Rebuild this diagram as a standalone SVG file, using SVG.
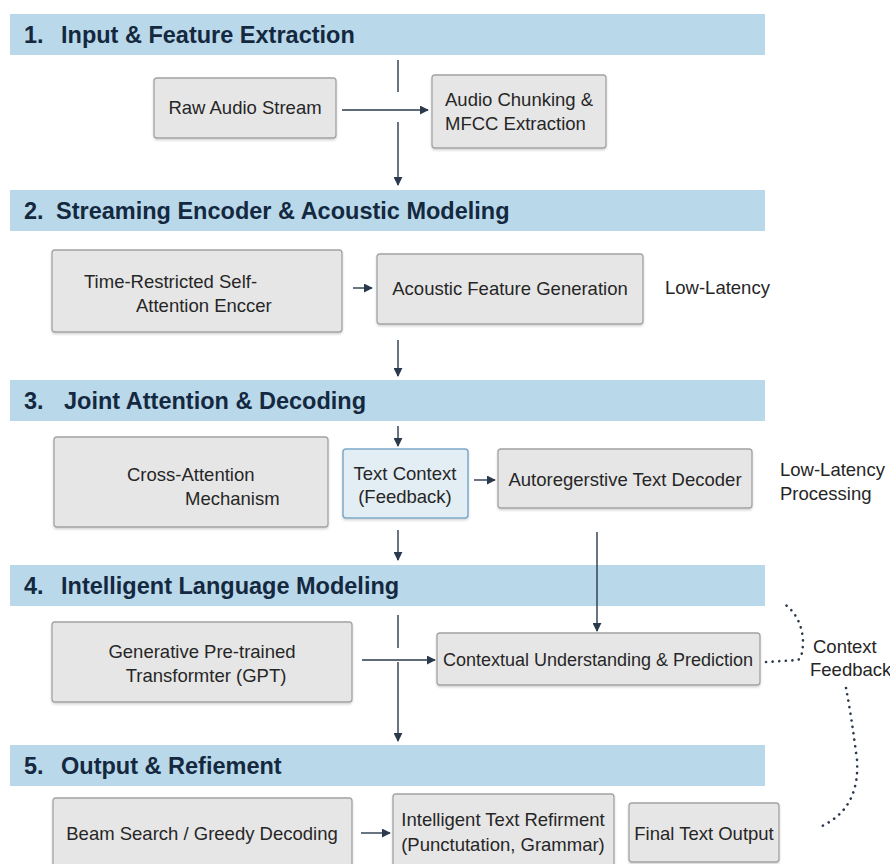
<svg xmlns="http://www.w3.org/2000/svg" width="890" height="864" viewBox="0 0 890 864">
<defs>
<style>
.band{fill:#b9d8ea;}
.title{font-family:"Liberation Sans",Arial,sans-serif;font-weight:bold;font-size:23.5px;fill:#14283f;}
.box{fill:#e6e6e6;stroke:#a3a3a3;stroke-width:1.3;}
.cbox{fill:#e3edf4;stroke:#7ea9c9;stroke-width:1.5;}
.t{font-family:"Liberation Sans",Arial,sans-serif;font-size:18.5px;fill:#262626;}
.tc{font-family:"Liberation Sans",Arial,sans-serif;font-size:18.5px;fill:#262626;text-anchor:middle;}
.ln{stroke:#2a3a4c;stroke-width:1.4;fill:none;}
.dot{stroke:#2a3a4c;stroke-width:2.6;fill:none;stroke-dasharray:0.1 6.5;stroke-linecap:round;}
</style>
<marker id="ah" viewBox="0 0 10 10" refX="9" refY="5" markerWidth="9" markerHeight="9" markerUnits="userSpaceOnUse" orient="auto">
<path d="M0,0 L10,5 L0,10 z" fill="#2a3a4c"/>
</marker>
<filter id="sh" x="-5%" y="-5%" width="110%" height="120%">
<feDropShadow dx="0" dy="1.5" stdDeviation="1.2" flood-color="#000" flood-opacity="0.18"/>
</filter>
</defs>
<rect width="890" height="864" fill="#ffffff"/>

<g id="band1"><rect class="band" x="10" y="14" width="755" height="41"/><text class="title" x="24" y="43">1.</text><text class="title" x="61" y="43">Input &amp; Feature Extraction</text></g>
<g id="band2"><rect class="band" x="10" y="190" width="755" height="41"/><text class="title" x="24" y="219">2.</text><text class="title" x="56" y="219">Streaming Encoder &amp; Acoustic Modeling</text></g>
<g id="band3"><rect class="band" x="10" y="380" width="755" height="41"/><text class="title" x="24" y="409">3.</text><text class="title" x="64" y="409">Joint Attention &amp; Decoding</text></g>
<g id="band4"><rect class="band" x="10" y="565" width="755" height="41"/><text class="title" x="24" y="594">4.</text><text class="title" x="61" y="594">Intelligent Language Modeling</text></g>
<g id="band5"><rect class="band" x="10" y="745" width="755" height="41"/><text class="title" x="24" y="774">5.</text><text class="title" x="61" y="774">Output &amp; Refiement</text></g>

<g id="connectors">
<line class="ln" x1="398" y1="60" x2="398" y2="92"/>
<line class="ln" x1="398" y1="122" x2="398" y2="185" marker-end="url(#ah)"/>
<line class="ln" x1="342" y1="110" x2="428" y2="110" marker-end="url(#ah)"/>
<line class="ln" x1="353" y1="288" x2="372" y2="288" marker-end="url(#ah)"/>
<line class="ln" x1="398" y1="340" x2="398" y2="376" marker-end="url(#ah)"/>
<line class="ln" x1="398" y1="426" x2="398" y2="446" marker-end="url(#ah)"/>
<line class="ln" x1="474" y1="480" x2="495" y2="480" marker-end="url(#ah)"/>
<line class="ln" x1="398" y1="530" x2="398" y2="560" marker-end="url(#ah)"/>
<line class="ln" x1="597" y1="532" x2="597" y2="631" marker-end="url(#ah)"/>
<line class="ln" x1="398" y1="615" x2="398" y2="648"/>
<line class="ln" x1="398" y1="662" x2="398" y2="741" marker-end="url(#ah)"/>
<line class="ln" x1="362" y1="660" x2="435" y2="660" marker-end="url(#ah)"/>
<line class="ln" x1="361" y1="833" x2="390" y2="833" marker-end="url(#ah)"/>
<path class="dot" d="M766 662 L798 660 Q803 657 803 640 Q801 615 783 603"/>
<path class="dot" d="M846 688 Q852 720 857 760 Q860 808 822 826"/>
</g>

<g id="raw-audio"><rect class="box" filter="url(#sh)" x="154" y="78" width="182" height="60" rx="3"/><text class="tc" x="245" y="114">Raw Audio Stream</text></g>
<g id="chunking"><rect class="box" filter="url(#sh)" x="432" y="75" width="174" height="73" rx="3"/><text class="t" x="445" y="106">Audio Chunking &amp;</text><text class="t" x="445" y="130">MFCC Extraction</text></g>

<g id="time-restricted"><rect class="box" filter="url(#sh)" x="52" y="250" width="290" height="82" rx="3"/><text class="t" x="84" y="288">Time-Restricted Self-</text><text class="t" x="136" y="312">Attention Enccer</text></g>
<g id="acoustic"><rect class="box" filter="url(#sh)" x="377" y="254" width="266" height="70" rx="3"/><text class="tc" x="510" y="295">Acoustic Feature Generation</text></g>
<text class="t" x="665" y="294">Low-Latency</text>

<g id="cross-attention"><rect class="box" filter="url(#sh)" x="54" y="437" width="274" height="90" rx="3"/><text class="t" x="127" y="481">Cross-Attention</text><text class="t" x="185" y="505">Mechanism</text></g>
<g id="text-context"><rect class="cbox" filter="url(#sh)" x="343" y="449" width="125" height="69" rx="3"/><text class="tc" x="405" y="480">Text Context</text><text class="tc" x="405" y="503">(Feedback)</text></g>
<g id="decoder"><rect class="box" filter="url(#sh)" x="498" y="449" width="254" height="59" rx="3"/><text class="tc" x="625" y="486">Autoregerstive Text Decoder</text></g>
<text class="t" x="780" y="476">Low-Latency</text>
<text class="t" x="780" y="500">Processing</text>

<g id="gpt"><rect class="box" filter="url(#sh)" x="52" y="622" width="300" height="80" rx="3"/><text class="tc" x="202" y="658">Generative Pre-trained</text><text class="tc" x="206" y="682">Transformter (GPT)</text></g>
<g id="contextual"><rect class="box" filter="url(#sh)" x="437" y="633" width="323" height="52" rx="3"/><text class="tc" x="598" y="666" style="font-size:18px">Contextual Understanding &amp; Prediction</text></g>
<text class="t" x="813" y="653">Context</text>
<text class="t" x="810" y="676">Feedback</text>

<g id="beam"><rect class="box" filter="url(#sh)" x="53" y="798" width="299" height="70" rx="3"/><text class="tc" x="202" y="840">Beam Search / Greedy Decoding</text></g>
<g id="refinement"><rect class="box" filter="url(#sh)" x="393" y="794" width="221" height="72" rx="3"/><text class="tc" x="503" y="826">Intelligent Text Refirment</text><text class="tc" x="503" y="851">(Punctutation, Grammar)</text></g>
<g id="final"><rect class="box" filter="url(#sh)" x="629" y="803" width="150" height="59" rx="3"/><text class="tc" x="704" y="840">Final Text Output</text></g>
</svg>
